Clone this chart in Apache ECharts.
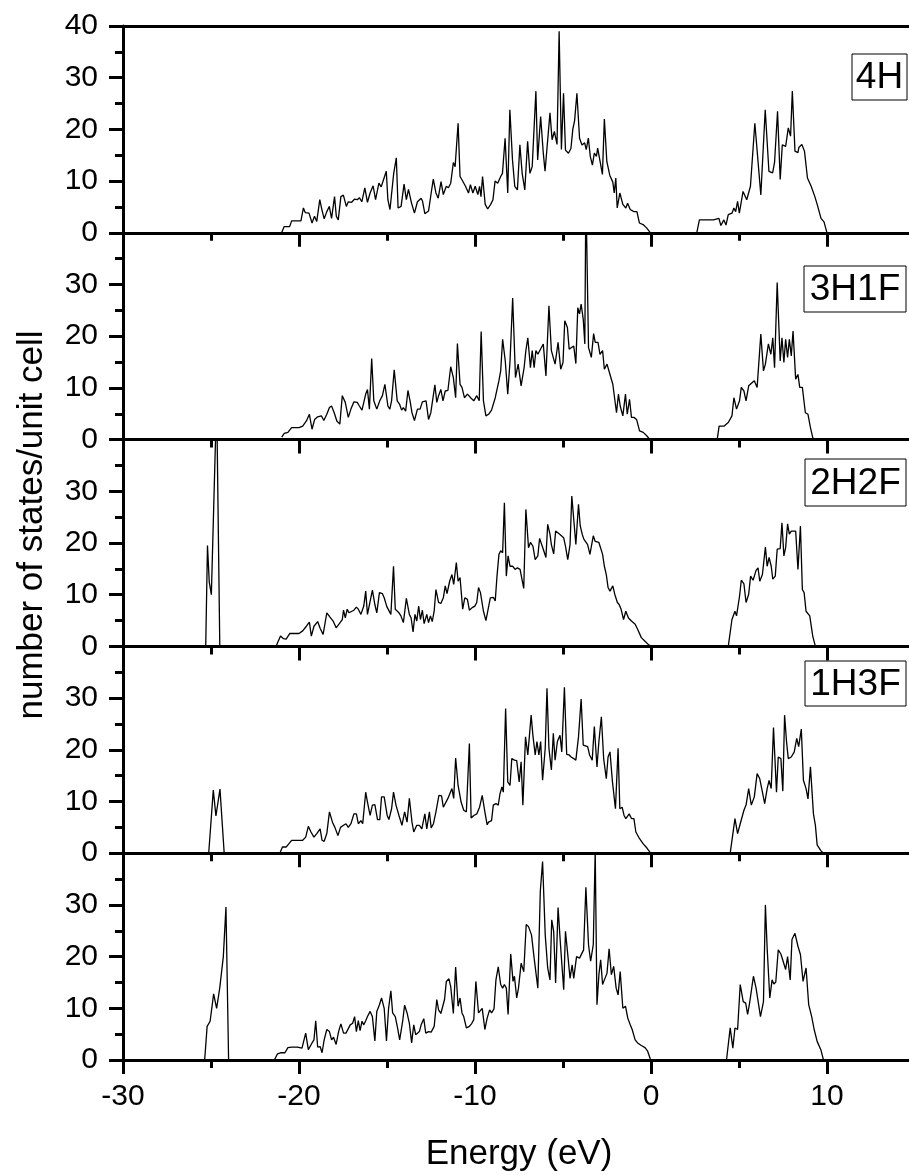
<!DOCTYPE html>
<html>
<head>
<meta charset="utf-8">
<script src="https://cdn.jsdelivr.net/npm/echarts@6/dist/echarts.min.js"></script>
<style>
  html, body { margin: 0; padding: 0; background: #fff; }
  #chart { width: 909px; height: 1175px; }
</style>
</head>
<body>
<div id="chart"></div>
<script>
// Density of states, [energy (eV), states per unit cell]
const dos4H = [
  [-20.99,0],[-20.84,1.2],[-20.53,1.2],[-20.42,2.3],[-19.89,2.3],[-19.75,4.8],[-19.64,3.9],[-19.43,3.8],
  [-19.26,1.9],[-19.12,3.2],[-18.99,2.2],[-18.82,6.4],[-18.70,4.5],[-18.57,2.7],[-18.42,4.1],[-18.28,5.1],
  [-18.15,2.8],[-17.98,7.0],[-17.88,3.2],[-17.77,2.5],[-17.62,7.0],[-17.48,7.3],[-17.31,5.1],[-17.20,6.0],
  [-17.01,5.9],[-16.85,6.5],[-16.68,6.4],[-16.57,6.8],[-16.43,6.0],[-16.26,8.7],[-16.11,5.9],[-15.96,7.7],
  [-15.79,9.1],[-15.65,6.4],[-15.46,9.6],[-15.33,8.9],[-15.04,11.9],[-14.95,6.4],[-14.83,4.5],[-14.62,11.5],
  [-14.47,14.5],[-14.37,4.8],[-14.20,5.1],[-14.03,9.4],[-13.90,6.4],[-13.78,8.4],[-13.61,5.8],[-13.44,3.8],
  [-13.27,6.0],[-13.06,6.7],[-12.98,6.1],[-12.85,3.7],[-12.64,4.2],[-12.49,7.7],[-12.37,10.4],[-12.22,7.7],
  [-12.09,6.7],[-11.93,9.9],[-11.80,7.4],[-11.63,9.0],[-11.51,8.7],[-11.38,9.6],[-11.23,13.6],[-11.13,12.8],
  [-10.96,21.2],[-10.85,10.9],[-10.75,10.3],[-10.54,9.0],[-10.37,7.7],[-10.26,9.3],[-10.12,7.7],[-9.99,9.0],
  [-9.84,7.4],[-9.74,9.0],[-9.66,7.0],[-9.57,10.9],[-9.42,5.5],[-9.28,4.6],[-9.11,5.5],[-8.98,6.4],
  [-8.86,10.0],[-8.71,9.6],[-8.54,10.9],[-8.44,11.5],[-8.29,18.3],[-8.14,7.7],[-8.02,23.8],[-7.87,14.1],
  [-7.74,9.0],[-7.59,8.3],[-7.45,17.0],[-7.32,11.5],[-7.17,8.3],[-7.01,17.7],[-6.88,11.5],[-6.75,12.8],
  [-6.54,27.4],[-6.44,14.1],[-6.27,22.5],[-6.12,15.4],[-6.02,11.9],[-5.91,12.2],[-5.74,23.2],[-5.62,18.0],
  [-5.49,19.6],[-5.34,17.1],[-5.22,39.0],[-5.09,16.1],[-4.97,27.0],[-4.86,16.0],[-4.69,15.4],[-4.55,16.3],
  [-4.44,20.1],[-4.34,21.7],[-4.21,27.0],[-4.06,18.3],[-3.92,17.0],[-3.77,17.4],[-3.68,16.1],[-3.56,18.3],
  [-3.45,14.8],[-3.33,13.1],[-3.22,15.4],[-3.10,14.8],[-3.03,16.4],[-2.76,11.3],[-2.65,22.0],[-2.51,13.8],
  [-2.34,11.1],[-2.17,9.8],[-2.09,7.7],[-2.00,10.6],[-1.92,4.8],[-1.77,7.7],[-1.60,5.5],[-1.43,4.8],
  [-1.33,5.7],[-1.18,4.5],[-0.97,4.1],[-0.80,4.1],[-0.66,1.9],[-0.45,1.6],[-0.24,0.9],[-0.03,0],
  [2.60,0],[2.75,2.5],[3.13,2.5],[3.55,2.5],[3.86,2.8],[3.97,1.4],[4.14,2.5],[4.26,1.5],
  [4.39,3.5],[4.60,3.8],[4.71,4.8],[4.81,4.1],[4.92,6.1],[5.02,3.8],[5.23,8.0],[5.44,6.4],
  [5.65,9.0],[5.90,21.2],[6.24,7.3],[6.49,23.8],[6.70,11.9],[6.91,11.6],[7.02,13.6],[7.19,23.5],
  [7.34,10.3],[7.46,17.0],[7.65,16.7],[7.80,20.3],[7.93,18.7],[8.03,27.4],[8.18,15.8],[8.35,15.5],
  [8.40,16.5],[8.57,17.1],[8.72,15.8],[8.89,10.6],[9.10,9.0],[9.31,7.0],[9.45,5.4],[9.66,2.8],
  [9.83,2.1],[10.00,0]
];

const dos3H1F = [
  [-20.98,0.5],[-20.84,1.2],[-20.63,1.4],[-20.42,2.3],[-20.00,2.3],[-19.79,2.6],[-19.58,3.6],[-19.41,4.9],
  [-19.26,2.0],[-19.11,3.9],[-18.94,4.4],[-18.73,4.6],[-18.59,3.7],[-18.42,4.9],[-18.27,6.2],[-18.15,6.5],
  [-18.00,5.2],[-17.85,3.6],[-17.68,3.0],[-17.54,8.5],[-17.37,7.2],[-17.20,4.3],[-17.05,5.9],[-16.88,7.3],
  [-16.69,7.2],[-16.57,6.5],[-16.42,5.7],[-16.21,8.8],[-16.11,9.7],[-16.00,5.9],[-15.87,15.7],[-15.75,7.5],
  [-15.58,5.9],[-15.41,7.5],[-15.26,8.5],[-15.12,10.7],[-14.95,6.5],[-14.84,5.9],[-14.74,7.5],[-14.59,13.5],
  [-14.42,7.5],[-14.28,6.8],[-14.17,5.7],[-14.07,6.2],[-13.94,5.5],[-13.81,9.5],[-13.69,7.5],[-13.58,5.2],
  [-13.44,3.7],[-13.27,5.9],[-13.12,5.9],[-12.99,7.3],[-12.89,7.2],[-12.78,7.5],[-12.64,3.9],[-12.51,5.2],
  [-12.41,5.5],[-12.28,10.6],[-12.17,7.2],[-12.07,8.5],[-11.94,9.7],[-11.82,7.5],[-11.69,9.4],[-11.54,9.5],
  [-11.38,14.1],[-11.23,12.0],[-11.10,8.1],[-11.00,18.6],[-10.85,10.7],[-10.74,10.1],[-10.60,8.1],[-10.43,8.8],
  [-10.22,8.0],[-10.07,7.5],[-9.90,8.5],[-9.76,7.5],[-9.65,20.9],[-9.52,7.5],[-9.38,4.6],[-9.23,4.9],
  [-9.06,5.7],[-8.85,8.1],[-8.64,11.4],[-8.54,13.3],[-8.43,19.4],[-8.28,15.2],[-8.14,8.8],[-8.01,15.2],
  [-7.86,27.4],[-7.70,12.0],[-7.55,14.6],[-7.38,10.4],[-7.21,13.9],[-7.11,17.2],[-7.00,19.7],[-6.85,13.9],
  [-6.75,17.2],[-6.64,13.9],[-6.54,17.2],[-6.43,16.5],[-6.33,16.8],[-6.12,18.5],[-5.97,12.3],[-5.80,25.9],
  [-5.66,17.2],[-5.55,17.2],[-5.45,14.6],[-5.28,18.8],[-5.13,13.6],[-5.00,14.9],[-4.90,23.0],[-4.75,21.7],
  [-4.65,17.5],[-4.54,17.2],[-4.39,18.1],[-4.27,14.7],[-4.16,25.5],[-4.06,24.3],[-3.97,26.2],[-3.85,23.3],
  [-3.76,18.5],[-3.70,48],[-3.64,48],[-3.55,17.8],[-3.39,15.9],[-3.26,20.5],[-3.17,18.8],[-3.01,18.8],
  [-2.90,16.5],[-2.75,17.2],[-2.65,13.6],[-2.50,14.6],[-2.33,12.6],[-2.17,10.7],[-2.06,10.7],[-1.96,5.2],
  [-1.85,8.8],[-1.75,6.5],[-1.60,4.6],[-1.45,8.8],[-1.35,4.9],[-1.22,7.8],[-1.11,4.3],[-0.97,4.3],
  [-0.82,3.9],[-0.65,1.7],[-0.44,1.4],[-0.23,0.7],[-0.06,0],
  [3.76,0],[3.87,2.6],[4.14,2.6],[4.39,3.3],[4.60,4.6],[4.71,8.1],[4.86,5.9],[5.03,7.5],
  [5.13,10.1],[5.28,9.4],[5.40,7.5],[5.55,10.4],[5.66,10.3],[5.87,11.4],[6.03,10.1],[6.12,10.1],
  [6.24,20.4],[6.39,13.3],[6.50,14.6],[6.67,18.5],[6.81,16.5],[6.92,19.7],[7.02,13.9],[7.17,30.4],
  [7.34,15.2],[7.44,19.7],[7.55,14.9],[7.65,19.4],[7.76,15.9],[7.86,19.4],[7.97,16.2],[8.07,21.0],
  [8.22,11.7],[8.35,12.6],[8.45,10.1],[8.60,10.1],[8.77,5.2],[8.92,4.9],[9.06,2.3],[9.19,0.4],
  [9.27,0]
];

const dos2H2F = [
  [-25.30,0],[-25.20,19.5],[-25.10,12.5],[-24.98,10.0],[-24.88,10.2],[-24.68,48],[-24.62,48],[-24.50,0],
  [-21.30,0],[-21.22,0.7],[-21.05,2.0],[-20.88,1.5],[-20.73,1.4],[-20.52,2.5],[-20.31,2.5],[-20.00,2.5],
  [-19.79,3.0],[-19.58,3.9],[-19.41,4.7],[-19.30,2.0],[-19.15,3.9],[-18.94,4.8],[-18.80,3.5],[-18.63,2.3],
  [-18.42,6.5],[-18.25,5.7],[-18.06,4.9],[-17.89,3.6],[-17.73,4.3],[-17.54,5.2],[-17.47,7.0],[-17.37,5.5],
  [-17.26,7.2],[-17.16,6.5],[-17.05,6.8],[-16.88,7.0],[-16.74,7.6],[-16.63,7.2],[-16.48,6.2],[-16.32,7.8],
  [-16.21,10.7],[-16.11,6.2],[-16.00,6.2],[-15.83,10.9],[-15.69,8.1],[-15.58,6.5],[-15.43,10.4],[-15.26,10.2],
  [-15.16,9.4],[-15.01,7.7],[-14.91,7.5],[-14.78,6.2],[-14.63,15.5],[-14.53,7.2],[-14.42,7.2],[-14.32,6.5],
  [-14.21,5.9],[-14.07,4.6],[-13.90,9.3],[-13.73,6.2],[-13.63,5.5],[-13.52,2.8],[-13.41,6.2],[-13.31,4.9],
  [-13.20,7.8],[-13.10,5.2],[-12.99,7.0],[-12.89,4.4],[-12.74,6.2],[-12.64,4.6],[-12.53,5.9],[-12.43,4.8],
  [-12.32,6.8],[-12.22,11.0],[-12.07,8.5],[-11.94,8.3],[-11.80,9.4],[-11.69,11.7],[-11.59,10.2],[-11.44,12.6],
  [-11.31,13.9],[-11.21,12.0],[-11.06,16.2],[-10.96,12.6],[-10.85,13.3],[-10.70,7.2],[-10.58,9.4],[-10.43,9.1],
  [-10.32,7.0],[-10.16,7.5],[-10.01,7.8],[-9.90,8.5],[-9.80,11.4],[-9.69,10.4],[-9.52,6.8],[-9.38,5.0],
  [-9.27,5.2],[-9.13,9.4],[-8.96,9.5],[-8.85,8.8],[-8.75,13.6],[-8.64,17.8],[-8.54,18.5],[-8.43,18.1],
  [-8.33,27.8],[-8.22,13.6],[-8.12,17.5],[-8.01,15.5],[-7.86,15.5],[-7.72,14.9],[-7.59,15.2],[-7.44,14.9],
  [-7.34,15.2],[-7.23,11.2],[-7.11,26.5],[-6.96,19.1],[-6.85,20.1],[-6.71,19.4],[-6.58,16.8],[-6.43,17.5],
  [-6.33,20.9],[-6.22,21.0],[-6.12,18.8],[-5.97,17.2],[-5.87,23.6],[-5.74,21.7],[-5.66,19.7],[-5.53,17.9],
  [-5.42,22.3],[-5.32,22.6],[-5.19,21.7],[-5.11,22.0],[-4.96,21.0],[-4.86,19.4],[-4.73,16.8],[-4.60,19.7],
  [-4.50,29.1],[-4.39,24.6],[-4.27,19.7],[-4.12,27.5],[-4.02,23.3],[-3.91,21.7],[-3.81,20.7],[-3.70,20.4],
  [-3.60,19.7],[-3.47,17.8],[-3.28,21.4],[-3.17,20.3],[-2.96,20.1],[-2.86,20.1],[-2.75,17.8],[-2.65,15.5],
  [-2.54,13.9],[-2.44,11.4],[-2.33,10.7],[-2.17,11.7],[-2.06,10.1],[-1.91,8.5],[-1.81,8.1],[-1.70,7.2],
  [-1.56,5.2],[-1.43,6.8],[-1.28,5.5],[-1.11,4.9],[-0.90,4.3],[-0.76,3.3],[-0.55,1.7],[-0.34,1.0],
  [-0.13,0.3],[0.00,0],
  [4.39,0],[4.60,5.2],[4.77,6.8],[4.86,5.9],[5.03,9.7],[5.13,12.8],[5.28,12.1],[5.40,8.5],
  [5.55,10.1],[5.66,13.6],[5.80,12.8],[5.97,14.7],[6.08,15.2],[6.18,12.6],[6.33,13.9],[6.50,19.2],
  [6.60,15.5],[6.71,17.2],[6.83,15.5],[6.92,13.0],[7.06,13.6],[7.17,18.8],[7.34,18.9],[7.44,23.9],
  [7.55,17.5],[7.65,19.1],[7.76,23.7],[7.86,21.7],[7.97,22.3],[8.07,22.6],[8.22,22.3],[8.35,14.9],
  [8.49,23.3],[8.60,11.0],[8.70,10.4],[8.81,6.8],[9.02,5.9],[9.19,2.0],[9.34,0]
];

const dos1H3F = [
  [-25.13,0],[-24.87,12.2],[-24.72,7.2],[-24.49,12.4],[-24.25,0],
  [-21.09,0],[-20.94,1.2],[-20.73,1.2],[-20.58,1.8],[-20.42,2.5],[-20.10,2.5],[-19.79,2.5],[-19.62,3.1],
  [-19.47,5.2],[-19.32,4.1],[-19.15,3.1],[-18.99,3.8],[-18.80,4.7],[-18.69,2.5],[-18.57,2.3],[-18.42,3.8],
  [-18.27,8.0],[-18.10,6.0],[-17.96,5.0],[-17.79,3.4],[-17.64,5.0],[-17.47,5.4],[-17.33,5.7],[-17.20,5.0],
  [-17.05,5.7],[-16.88,7.6],[-16.74,7.6],[-16.63,5.7],[-16.48,6.3],[-16.38,5.7],[-16.21,11.8],[-16.11,9.9],
  [-15.96,7.3],[-15.83,9.3],[-15.69,9.4],[-15.54,6.5],[-15.41,6.5],[-15.31,10.9],[-15.16,10.9],[-14.99,7.3],
  [-14.89,6.5],[-14.74,8.6],[-14.63,11.8],[-14.49,9.3],[-14.32,7.3],[-14.15,5.4],[-14.00,8.0],[-13.86,6.0],
  [-13.73,10.6],[-13.58,6.0],[-13.48,4.1],[-13.31,5.4],[-13.16,5.4],[-13.02,4.7],[-12.85,7.6],[-12.74,4.7],
  [-12.59,8.0],[-12.49,4.9],[-12.36,5.7],[-12.22,8.0],[-12.05,11.2],[-11.90,11.1],[-11.80,8.9],[-11.69,8.8],
  [-11.54,10.6],[-11.44,10.7],[-11.31,12.5],[-11.21,10.6],[-11.10,18.4],[-10.96,13.1],[-10.79,9.9],[-10.64,8.3],
  [-10.49,8.0],[-10.32,21.2],[-10.22,6.8],[-10.07,7.3],[-9.90,7.6],[-9.74,8.9],[-9.59,11.2],[-9.44,8.0],
  [-9.31,5.5],[-9.23,6.0],[-9.06,6.3],[-8.96,9.3],[-8.81,9.6],[-8.68,9.3],[-8.58,11.5],[-8.47,12.8],
  [-8.39,11.8],[-8.26,28.0],[-8.14,13.8],[-8.01,13.1],[-7.91,18.3],[-7.76,18.0],[-7.63,17.9],[-7.49,13.8],
  [-7.38,17.7],[-7.28,9.3],[-7.13,22.5],[-7.00,19.0],[-6.81,26.7],[-6.71,22.8],[-6.58,19.0],[-6.48,21.6],
  [-6.37,19.0],[-6.27,21.6],[-6.16,14.1],[-6.01,20.3],[-5.91,31.9],[-5.80,20.3],[-5.66,16.1],[-5.55,23.2],
  [-5.45,18.0],[-5.32,21.6],[-5.17,22.8],[-5.07,19.6],[-4.92,32.1],[-4.79,19.1],[-4.65,19.0],[-4.54,18.6],
  [-4.39,18.3],[-4.27,18.0],[-4.12,22.5],[-3.97,29.8],[-3.85,20.9],[-3.74,21.2],[-3.60,20.6],[-3.49,19.0],
  [-3.34,18.0],[-3.22,24.5],[-3.07,16.7],[-2.96,21.6],[-2.82,26.4],[-2.69,18.3],[-2.54,14.4],[-2.44,18.6],
  [-2.33,19.6],[-2.19,13.8],[-2.02,8.6],[-1.87,20.3],[-1.77,8.6],[-1.64,8.9],[-1.53,7.3],[-1.43,6.7],
  [-1.35,7.0],[-1.24,7.6],[-1.11,6.7],[-0.97,6.7],[-0.86,4.1],[-0.65,2.8],[-0.44,1.8],[-0.23,1.0],
  [-0.02,0],
  [4.50,0],[4.77,6.7],[4.92,3.8],[5.07,5.7],[5.28,8.3],[5.40,9.3],[5.55,12.5],[5.70,9.3],
  [5.87,10.9],[6.03,15.4],[6.18,14.4],[6.33,11.8],[6.46,9.6],[6.60,12.5],[6.71,14.1],[6.83,12.5],
  [6.96,24.3],[7.13,11.8],[7.23,18.6],[7.38,18.3],[7.49,12.0],[7.59,26.7],[7.70,21.6],[7.80,18.3],
  [7.97,18.6],[8.14,19.6],[8.28,22.2],[8.39,20.6],[8.54,24.0],[8.66,14.1],[8.81,12.5],[8.92,10.5],
  [9.06,16.7],[9.23,7.6],[9.34,5.4],[9.44,1.6],[9.65,0.5],[9.80,0]
];

const dos4F = [
  [-25.36,0],[-25.22,6.5],[-25.05,7.5],[-24.85,12.8],[-24.68,10.0],[-24.50,14.0],[-24.30,20.0],[-24.15,29.6],
  [-24.00,0],
  [-21.40,0],[-21.22,1.2],[-21.05,1.4],[-20.80,1.4],[-20.63,2.4],[-20.42,2.5],[-20.10,2.5],[-20.00,2.8],
  [-19.83,2.3],[-19.62,5.2],[-19.47,2.0],[-19.26,3.3],[-19.15,3.9],[-19.05,7.6],[-18.94,2.5],[-18.80,2.6],
  [-18.69,1.4],[-18.57,3.9],[-18.42,5.9],[-18.27,5.5],[-18.15,3.9],[-18.04,4.4],[-17.89,3.0],[-17.75,5.5],
  [-17.62,7.0],[-17.47,5.2],[-17.33,5.2],[-17.22,4.9],[-17.09,6.8],[-16.95,7.1],[-16.84,8.4],[-16.74,5.5],
  [-16.63,7.6],[-16.53,5.7],[-16.42,7.5],[-16.32,6.8],[-16.21,7.6],[-16.11,8.4],[-15.96,9.4],[-15.83,8.4],
  [-15.69,3.7],[-15.58,9.4],[-15.43,10.7],[-15.31,12.0],[-15.16,10.0],[-15.03,3.7],[-14.91,10.0],[-14.78,13.4],
  [-14.68,9.1],[-14.53,8.4],[-14.40,6.2],[-14.28,3.9],[-14.11,7.5],[-14.00,10.6],[-13.86,9.1],[-13.73,7.1],
  [-13.60,3.3],[-13.48,6.8],[-13.37,4.9],[-13.27,4.6],[-13.16,5.5],[-13.06,6.8],[-12.91,8.0],[-12.80,5.2],
  [-12.64,5.5],[-12.49,5.4],[-12.32,6.5],[-12.17,11.7],[-12.07,9.7],[-11.94,9.0],[-11.86,8.9],[-11.73,11.7],
  [-11.63,15.2],[-11.48,15.7],[-11.38,14.2],[-11.23,9.0],[-11.10,18.0],[-10.96,10.4],[-10.85,12.0],[-10.74,9.1],
  [-10.64,8.4],[-10.49,6.2],[-10.32,6.5],[-10.18,7.1],[-10.07,7.8],[-9.95,15.2],[-9.80,9.1],[-9.69,9.4],
  [-9.59,10.0],[-9.44,5.9],[-9.31,8.1],[-9.17,9.7],[-9.06,9.1],[-8.92,9.9],[-8.81,15.5],[-8.68,18.0],
  [-8.54,14.6],[-8.43,13.9],[-8.33,14.6],[-8.22,13.9],[-8.12,8.8],[-7.97,20.5],[-7.84,15.2],[-7.76,16.2],
  [-7.63,12.0],[-7.53,13.9],[-7.38,18.7],[-7.23,17.1],[-7.09,26.2],[-6.96,25.8],[-6.79,24.2],[-6.64,19.7],
  [-6.43,13.9],[-6.29,32.6],[-6.16,38.4],[-6.01,24.2],[-5.87,17.8],[-5.74,15.5],[-5.64,27.1],[-5.53,24.9],
  [-5.42,14.9],[-5.28,29.5],[-5.13,21.6],[-4.96,13.6],[-4.86,24.9],[-4.71,19.7],[-4.60,15.8],[-4.48,18.4],
  [-4.39,15.8],[-4.23,20.0],[-4.06,19.7],[-3.95,19.4],[-3.83,21.3],[-3.70,33.4],[-3.55,22.3],[-3.43,19.1],
  [-3.28,22.3],[-3.17,40.5],[-3.07,10.7],[-2.96,16.5],[-2.86,19.4],[-2.75,14.6],[-2.65,15.5],[-2.50,16.8],
  [-2.38,21.5],[-2.25,16.5],[-2.12,18.1],[-1.98,13.9],[-1.87,12.6],[-1.75,17.1],[-1.60,10.0],[-1.45,10.4],
  [-1.32,8.1],[-1.18,6.8],[-1.07,5.9],[-0.90,3.9],[-0.76,3.3],[-0.55,2.8],[-0.34,2.4],[-0.19,1.7],
  [-0.02,0],
  [4.29,0],[4.50,6.2],[4.65,2.3],[4.77,6.2],[4.92,5.9],[5.07,14.6],[5.24,11.3],[5.38,11.0],
  [5.49,8.8],[5.61,11.2],[5.72,11.2],[5.82,16.2],[5.97,13.9],[6.08,13.6],[6.22,8.4],[6.39,11.3],
  [6.50,30.0],[6.60,21.6],[6.75,12.0],[6.88,15.5],[6.98,14.7],[7.09,15.1],[7.23,21.3],[7.38,20.5],
  [7.49,20.7],[7.65,17.5],[7.76,20.0],[7.91,15.5],[8.01,23.3],[8.18,24.5],[8.35,22.0],[8.49,20.4],
  [8.64,15.2],[8.81,17.8],[8.96,10.7],[9.13,8.4],[9.27,5.9],[9.44,3.6],[9.65,2.0],[9.80,0]
];

const panels = [dos4H, dos3H1F, dos2H2F, dos1H3F, dos4F];
const panelTags = ['4H', '3H1F', '2H2F', '1H3F', null];
const energyTicks = [-30, -20, -10, 0, 10];
const energyMinorTicks = [-25, -15, -5, 5];
const dosTicks = [0, 10, 20, 30, 40];
const xTitle = 'Energy (eV)';
const yTitle = 'number of states/unit cell';

const FONT = "'Liberation Sans', Arial, sans-serif";
const BLACK = '#000';
const GRID_LEFT = 123, GRID_TOP = 26, PANEL_H = 206.8;
const PX_PER_EV = 17.6;
// the energy axis is cut off by the right edge of the page
const X_MIN = -30;
const GRID_W = 909 - GRID_LEFT;
const X_MAX = X_MIN + GRID_W / PX_PER_EV;

const axisLine = { show: true, onZero: false, lineStyle: { color: BLACK, width: 3 } };
const tickStyle = { color: BLACK, width: 3 };

const grids = [], xAxes = [], yAxes = [], series = [];
panels.forEach((data, i) => {
  grids.push({ left: GRID_LEFT, width: GRID_W, top: GRID_TOP + i * PANEL_H, height: PANEL_H, containLabel: false });
  xAxes.push({
    type: 'value', gridIndex: i, position: 'bottom', min: X_MIN, max: X_MAX,
    axisLine,
    axisTick: { show: true, inside: false, length: 14, customValues: energyTicks, lineStyle: tickStyle },
    splitLine: { show: false },
    axisLabel: {
      show: i === panels.length - 1, customValues: energyTicks,
      margin: 22, color: BLACK, fontSize: 30, fontFamily: FONT
    }
  });
  yAxes.push({
    type: 'value', gridIndex: i, min: dosTicks[0], max: dosTicks[dosTicks.length - 1],
    interval: dosTicks[1] - dosTicks[0],
    axisLine,
    axisTick: { show: true, inside: false, length: 14, lineStyle: tickStyle },
    minorTick: { show: true, splitNumber: 2, length: 8, lineStyle: tickStyle },
    splitLine: { show: false },
    axisLabel: {
      margin: 25, color: BLACK, fontSize: 30, fontFamily: FONT,
      formatter: v => (i > 0 && v === 40 ? '' : String(v))
    }
  });
  series.push({
    type: 'line', xAxisIndex: i, yAxisIndex: i, data,
    showSymbol: false, clip: true, silent: true, z: 5,
    lineStyle: { color: BLACK, width: 1.3 }
  });
});
// short ticks halfway between the labelled energies
panels.forEach((_, i) => {
  xAxes.push({
    type: 'value', gridIndex: i, position: 'bottom', min: X_MIN, max: X_MAX,
    axisLine: { show: false },
    axisTick: { show: true, inside: false, length: 8, customValues: energyMinorTicks, lineStyle: tickStyle },
    axisLabel: { show: false }, splitLine: { show: false }
  });
});
// frame line along the top of the first panel
xAxes.push({
  type: 'value', gridIndex: 0, position: 'top', min: X_MIN, max: X_MAX,
  axisLine, axisTick: { show: false }, axisLabel: { show: false }, splitLine: { show: false }
});

const graphic = [
  { type: 'text', x: 519, y: 1154, style: { text: xTitle, font: `35px ${FONT}`, fill: BLACK, align: 'center', verticalAlign: 'middle' } },
  { type: 'text', x: 32, y: 525, rotation: Math.PI / 2, style: { text: yTitle, font: `35px ${FONT}`, fill: BLACK, align: 'center', verticalAlign: 'middle' } }
];
const tagBoxes = [
  { x: 852, y: 54, w: 55, h: 46 },
  { x: 804, y: 266, w: 102, h: 46 },
  { x: 805, y: 459, w: 101, h: 47 },
  { x: 805, y: 661, w: 101, h: 45 }
];
panelTags.forEach((tag, i) => {
  if (!tag) return;
  const b = tagBoxes[i];
  graphic.push({ type: 'rect', shape: { x: b.x, y: b.y, width: b.w, height: b.h }, style: { fill: '#fff', stroke: BLACK, lineWidth: 1 }, z: 10 });
  graphic.push({ type: 'text', x: b.x + b.w / 2, y: b.y + b.h / 2 + 1, style: { text: tag, font: `37px ${FONT}`, fill: BLACK, align: 'center', verticalAlign: 'middle' }, z: 11 });
});

const chart = echarts.init(document.getElementById('chart'), null, { renderer: 'canvas', width: 909, height: 1175 });
chart.setOption({
  animation: false,
  backgroundColor: '#fff',
  grid: grids,
  xAxis: xAxes,
  yAxis: yAxes,
  series,
  graphic
});
</script>
</body>
</html>
